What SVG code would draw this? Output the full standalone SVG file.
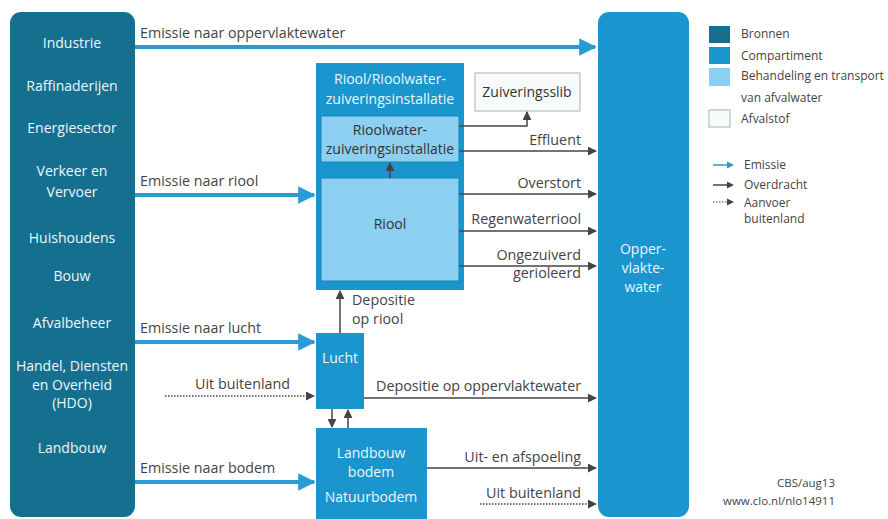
<svg xmlns="http://www.w3.org/2000/svg" width="888" height="519" viewBox="0 0 888 519">
  <defs>
    <marker id="blueHead" viewBox="0 0 10 10" refX="9" refY="5" markerWidth="4.4" markerHeight="4.4" orient="auto" markerUnits="strokeWidth">
      <path d="M0,0 L10,5 L0,10 Z" fill="#2a9bd6"/>
    </marker>
    <marker id="greyHead" viewBox="0 0 10 10" refX="9" refY="5" markerWidth="6" markerHeight="6" orient="auto" markerUnits="strokeWidth">
      <path d="M0,0 L10,5 L0,10 Z" fill="#444"/>
    </marker>
  </defs>
  <style>
    text { font-family: "Open Sans", "Liberation Sans", sans-serif; font-size: 14px; }
    .src { fill: #15708f; }
    .comp { fill: #1b95cd; }
    .treat { fill: #8ccff0; stroke: #1785b8; stroke-width: 1; }
    .waste { fill: #f8fbfc; stroke: #a9b0b4; stroke-width: 1; }
    .wt { fill: #eef6fa; text-anchor: middle; }
    .dt { fill: #333; text-anchor: middle; }
    .lbl { fill: #444; font-size: 14.3px; }
    .rl { fill: #444; text-anchor: end; font-size: 14.3px; }
    .emis { stroke: #2a9bd6; stroke-width: 4; fill: none; marker-end: url(#blueHead); }
    .over { stroke: #444; stroke-width: 1.5; fill: none; marker-end: url(#greyHead); }
    .aanv { stroke: #444; stroke-width: 1.5; stroke-dasharray: 1.5 1.5; fill: none; marker-end: url(#greyHead); }
    .leg { fill: #444; font-size: 12px; }
    .src-note { fill: #444; font-size: 11.5px; text-anchor: end; }
  </style>

  <rect width="888" height="519" fill="#fff"/>

  <!-- Sources -->
  <g id="bronnen">
    <rect class="src" x="10" y="12" width="125" height="505" rx="11"/>
    <text class="wt" x="72" y="48">Industrie</text>
    <text class="wt" x="72" y="91">Raffinaderijen</text>
    <text class="wt" x="72" y="133">Energiesector</text>
    <text class="wt" x="72" y="176">Verkeer en</text>
    <text class="wt" x="72" y="197">Vervoer</text>
    <text class="wt" x="72" y="243">Huishoudens</text>
    <text class="wt" x="72" y="281">Bouw</text>
    <text class="wt" x="72" y="328">Afvalbeheer</text>
    <text class="wt" x="72" y="371">Handel, Diensten</text>
    <text class="wt" x="72" y="390">en Overheid</text>
    <text class="wt" x="72" y="408">(HDO)</text>
    <text class="wt" x="72" y="453">Landbouw</text>
  </g>

  <!-- Surface water -->
  <g id="oppervlaktewater">
    <rect class="comp" x="598" y="12" width="91" height="505" rx="11"/>
    <text class="wt" x="643" y="254">Opper-</text>
    <text class="wt" x="643" y="273">vlakte-</text>
    <text class="wt" x="643" y="292">water</text>
  </g>

  <!-- Sewer / WWTP compartment -->
  <g id="riool-rwzi">
    <rect class="comp" x="316" y="63" width="148" height="227"/>
    <text class="wt" x="390" y="84">Riool/Rioolwater-</text>
    <text class="wt" x="390" y="104">zuiveringsinstallatie</text>
  </g>
  <g id="rwzi">
    <rect class="treat" x="321" y="116" width="138" height="46"/>
    <text class="dt" x="390" y="135">Rioolwater-</text>
    <text class="dt" x="390" y="154">zuiveringsinstallatie</text>
  </g>
  <g id="riool">
    <rect class="treat" x="321" y="178" width="138" height="103"/>
    <text class="dt" x="390" y="229">Riool</text>
  </g>
  <g id="zuiveringsslib">
    <rect class="waste" x="475" y="73" width="105" height="38"/>
    <text class="dt" x="527" y="97">Zuiveringsslib</text>
  </g>

  <g id="lucht">
    <rect class="comp" x="316" y="333" width="48" height="76"/>
    <text class="wt" x="340" y="363">Lucht</text>
  </g>

  <g id="bodem">
    <rect class="comp" x="316" y="428" width="111" height="95"/>
    <text class="wt" x="371" y="458">Landbouw</text>
    <text class="wt" x="371" y="477">bodem</text>
    <text class="wt" x="371" y="502">Natuurbodem</text>
  </g>

  <!-- Flows -->
  <g id="connectors">
    <!-- emissions -->
    <line class="emis" x1="135" y1="47" x2="595" y2="47"/>
    <line class="emis" x1="135" y1="195" x2="314" y2="195"/>
    <line class="emis" x1="135" y1="342" x2="314" y2="342"/>
    <line class="emis" x1="135" y1="482" x2="314" y2="482"/>
    <!-- transfers -->
    <polyline class="over" points="459,126 527,126 527,112"/>
    <line class="over" x1="459" y1="151" x2="596" y2="151"/>
    <line class="over" x1="390" y1="178" x2="390" y2="163"/>
    <line class="over" x1="459" y1="194" x2="596" y2="194"/>
    <line class="over" x1="459" y1="231" x2="596" y2="231"/>
    <line class="over" x1="459" y1="266" x2="596" y2="266"/>
    <line class="over" x1="340" y1="333" x2="340" y2="291"/>
    <line class="over" x1="364" y1="398" x2="596" y2="398"/>
    <line class="over" x1="332" y1="409" x2="332" y2="427"/>
    <line class="over" x1="348" y1="428" x2="348" y2="410"/>
    <line class="over" x1="427" y1="468" x2="596" y2="468"/>
    <!-- imports from abroad -->
    <line class="aanv" x1="165" y1="396" x2="314" y2="396"/>
    <line class="aanv" x1="480" y1="504" x2="596" y2="504"/>
  </g>

  <!-- Flow labels -->
  <g id="labels">
    <text class="lbl" x="140" y="38">Emissie naar oppervlaktewater</text>
    <text class="lbl" x="140" y="186">Emissie naar riool</text>
    <text class="lbl" x="140" y="333">Emissie naar lucht</text>
    <text class="rl" x="290" y="389">Uit buitenland</text>
    <text class="lbl" x="140" y="473">Emissie naar bodem</text>
    <text class="rl" x="581" y="145">Effluent</text>
    <text class="rl" x="581" y="188">Overstort</text>
    <text class="rl" x="581" y="224">Regenwaterriool</text>
    <text class="rl" x="581" y="260">Ongezuiverd</text>
    <text class="rl" x="581" y="278">gerioleerd</text>
    <text class="lbl" x="352" y="305">Depositie</text>
    <text class="lbl" x="352" y="324">op riool</text>
    <text class="rl" x="581" y="391">Depositie op oppervlaktewater</text>
    <text class="rl" x="581" y="462">Uit- en afspoeling</text>
    <text class="rl" x="581" y="498">Uit buitenland</text>
  </g>

  <!-- Legend -->
  <g id="legend">
    <rect x="709" y="26" width="21" height="17" class="src"/>
    <rect x="709" y="47" width="21" height="17" class="comp"/>
    <rect x="709" y="68" width="21" height="18" fill="#8ccff0"/>
    <rect x="709" y="110" width="21" height="17" class="waste"/>
    <text class="leg" x="741" y="38">Bronnen</text>
    <text class="leg" x="741" y="60">Compartiment</text>
    <text class="leg" x="741" y="80">Behandeling en transport</text>
    <text class="leg" x="741" y="102">van afvalwater</text>
    <text class="leg" x="741" y="123">Afvalstof</text>
    <line x1="713" y1="165" x2="729" y2="165" stroke="#2a9bd6" stroke-width="1.5"/>
    <path d="M727,161.5 L734,165 L727,168.5 Z" fill="#2a9bd6"/>
    <line x1="713" y1="185" x2="729" y2="185" stroke="#444" stroke-width="1.5"/>
    <path d="M727,181.5 L734,185 L727,188.5 Z" fill="#444"/>
    <line x1="713" y1="202" x2="729" y2="202" stroke="#444" stroke-width="1.2" stroke-dasharray="1.5 1.5"/>
    <path d="M727,198.5 L734,202 L727,205.5 Z" fill="#444"/>
    <text class="leg" x="744" y="169">Emissie</text>
    <text class="leg" x="744" y="189">Overdracht</text>
    <text class="leg" x="744" y="207">Aanvoer</text>
    <text class="leg" x="744" y="223">buitenland</text>
  </g>

  <g id="bron">
    <text class="src-note" x="835" y="487">CBS/aug13</text>
    <text class="src-note" x="835" y="505">www.clo.nl/nlo14911</text>
  </g>
</svg>
